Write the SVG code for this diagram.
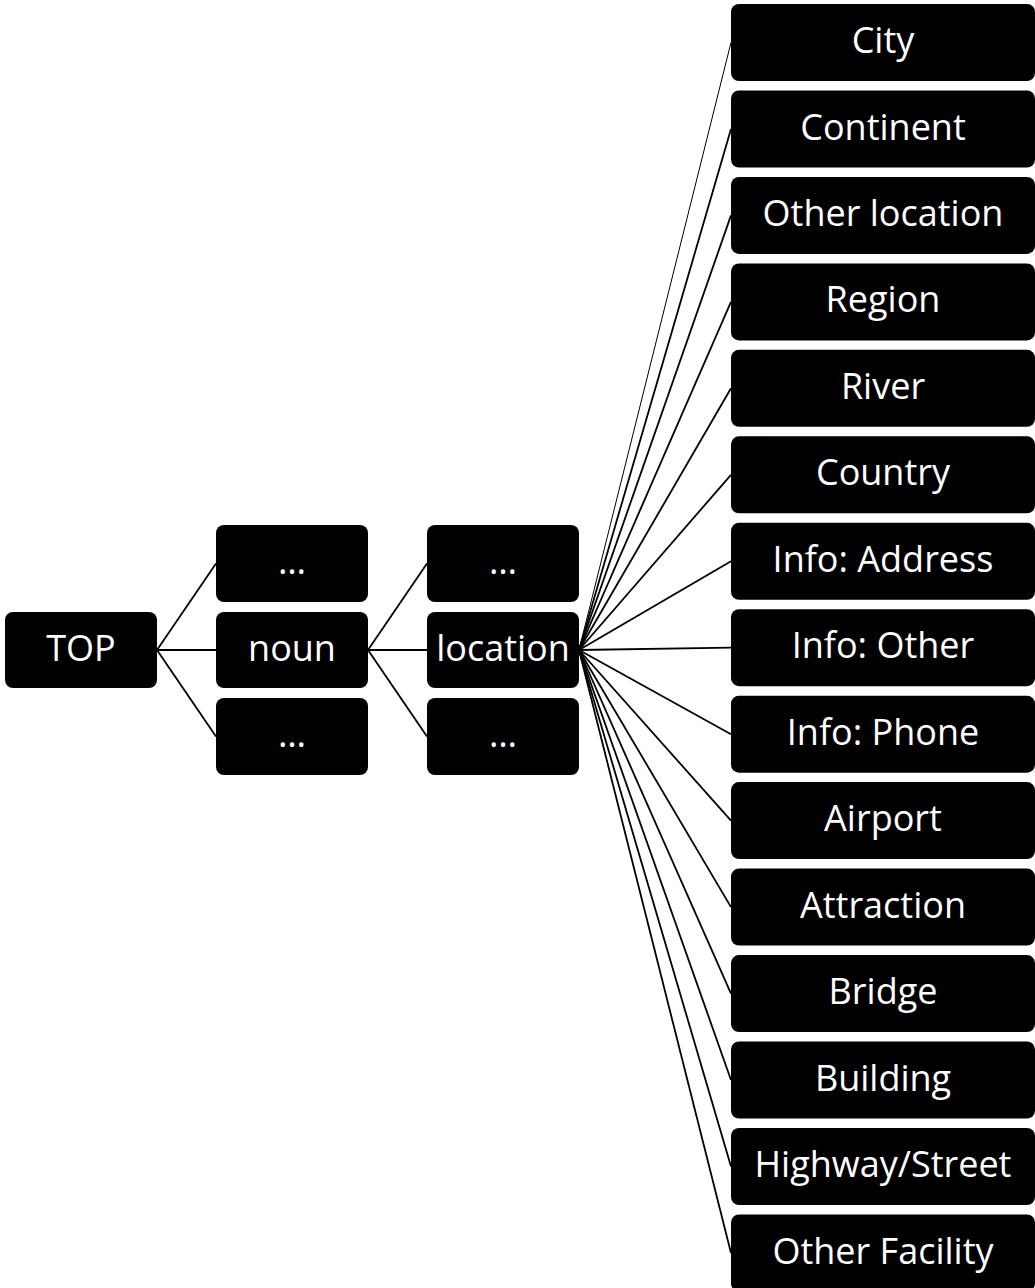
<svg xmlns="http://www.w3.org/2000/svg" width="1035" height="1288" viewBox="0 0 1035 1288">
<style>
.n rect{fill:#000}
.n text{fill:#fff;font-family:"Open Sans","Liberation Sans",sans-serif;font-size:36px;text-anchor:middle;dominant-baseline:central}
.e line{stroke:#000;stroke-width:1.8}
</style>
<rect width="1035" height="1288" fill="#fff"/>
<g class="e" id="connectors">
<line x1="157" y1="650" x2="216" y2="563.5"/>
<line x1="157" y1="650" x2="216" y2="650"/>
<line x1="157" y1="650" x2="216" y2="736.5"/>
<line x1="368" y1="650" x2="427" y2="563.5"/>
<line x1="368" y1="650" x2="427" y2="650"/>
<line x1="368" y1="650" x2="427" y2="736.5"/>
<line x1="579" y1="650" x2="731" y2="42.5" style="stroke-width:1"/>
<line x1="579" y1="650" x2="731" y2="129"/>
<line x1="579" y1="650" x2="731" y2="215.4"/>
<line x1="579" y1="650" x2="731" y2="301.9"/>
<line x1="579" y1="650" x2="731" y2="388.3"/>
<line x1="579" y1="650" x2="731" y2="474.8"/>
<line x1="579" y1="650" x2="731" y2="561.3"/>
<line x1="579" y1="650" x2="731" y2="647.7"/>
<line x1="579" y1="650" x2="731" y2="734.2"/>
<line x1="579" y1="650" x2="731" y2="820.6"/>
<line x1="579" y1="650" x2="731" y2="907.1"/>
<line x1="579" y1="650" x2="731" y2="993.6"/>
<line x1="579" y1="650" x2="731" y2="1080"/>
<line x1="579" y1="650" x2="731" y2="1166.5"/>
<line x1="579" y1="650" x2="731" y2="1253"/>
</g>
<g class="n" id="top"><rect x="5" y="612" width="152" height="76" rx="8"/><text x="81" y="647">TOP</text></g>
<g class="n" id="noun-a"><rect x="216" y="525" width="152" height="77" rx="8"/><text x="292" y="560.5">…</text></g>
<g class="n" id="noun"><rect x="216" y="612" width="152" height="76" rx="8"/><text x="292" y="647">noun</text></g>
<g class="n" id="noun-b"><rect x="216" y="698" width="152" height="77" rx="8"/><text x="292" y="733.5">…</text></g>
<g class="n" id="loc-a"><rect x="427" y="525" width="152" height="77" rx="8"/><text x="503" y="560.5">…</text></g>
<g class="n" id="location"><rect x="427" y="612" width="152" height="76" rx="8"/><text x="503" y="647">location</text></g>
<g class="n" id="loc-b"><rect x="427" y="698" width="152" height="77" rx="8"/><text x="503" y="733.5">…</text></g>
<g class="n" id="city"><rect x="731" y="4" width="304" height="77" rx="8"/><text x="883" y="39.5">City</text></g>
<g class="n" id="continent"><rect x="731" y="90.5" width="304" height="77" rx="8"/><text x="883" y="126">Continent</text></g>
<g class="n" id="other-location"><rect x="731" y="176.9" width="304" height="77" rx="8"/><text x="883" y="212.4">Other location</text></g>
<g class="n" id="region"><rect x="731" y="263.4" width="304" height="77" rx="8"/><text x="883" y="298.9">Region</text></g>
<g class="n" id="river"><rect x="731" y="349.8" width="304" height="77" rx="8"/><text x="883" y="385.3">River</text></g>
<g class="n" id="country"><rect x="731" y="436.3" width="304" height="77" rx="8"/><text x="883" y="471.8">Country</text></g>
<g class="n" id="info-address"><rect x="731" y="522.8" width="304" height="77" rx="8"/><text x="883" y="558.3">Info: Address</text></g>
<g class="n" id="info-other"><rect x="731" y="609.2" width="304" height="77" rx="8"/><text x="883" y="644.7">Info: Other</text></g>
<g class="n" id="info-phone"><rect x="731" y="695.7" width="304" height="77" rx="8"/><text x="883" y="731.2">Info: Phone</text></g>
<g class="n" id="airport"><rect x="731" y="782.1" width="304" height="77" rx="8"/><text x="883" y="817.6">Airport</text></g>
<g class="n" id="attraction"><rect x="731" y="868.6" width="304" height="77" rx="8"/><text x="883" y="904.1">Attraction</text></g>
<g class="n" id="bridge"><rect x="731" y="955.1" width="304" height="77" rx="8"/><text x="883" y="990.6">Bridge</text></g>
<g class="n" id="building"><rect x="731" y="1041.5" width="304" height="77" rx="8"/><text x="883" y="1077">Building</text></g>
<g class="n" id="highway"><rect x="731" y="1128" width="304" height="77" rx="8"/><text x="883" y="1163.5">Highway/Street</text></g>
<g class="n" id="other-facility"><rect x="731" y="1214.5" width="304" height="77" rx="8"/><text x="883" y="1250">Other Facility</text></g>
</svg>
